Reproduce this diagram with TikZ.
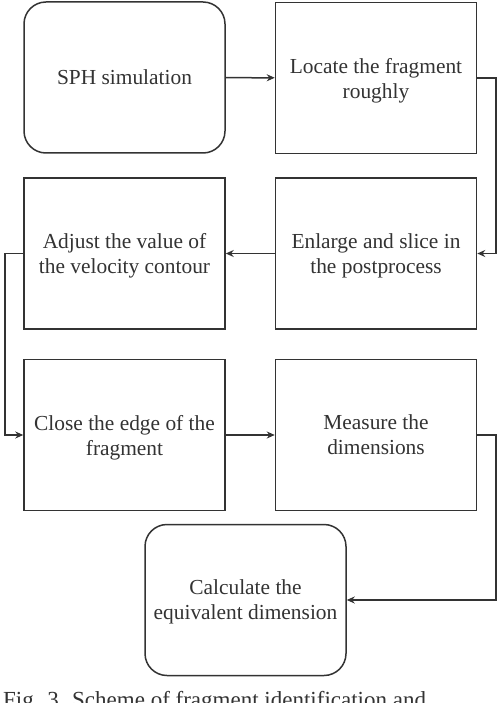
\documentclass[tikz,border=0pt]{standalone}
\usepackage{fontspec}
\setmainfont{Liberation Serif}
\usetikzlibrary{arrows.meta}
\definecolor{ink}{HTML}{333333}
\begin{document}
\begin{tikzpicture}[x=1pt,y=-1pt,
  stepbox/.style={draw=ink, line width=1.5pt, minimum width=201pt, minimum height=151pt,
    inner sep=0pt, align=center, text=ink, text depth=0pt,
    font=\fontsize{21.4}{25}\selectfont},
  roundbox/.style={stepbox, rounded corners=22pt},
  conn/.style={draw=ink, line width=1.5pt, -{Stealth[length=8pt,width=7pt]}}]
\useasboundingbox (0,0) rectangle (500,703);
\fill[white] (0,0) rectangle (500,703);
\node[roundbox] (sph) at (124.5,77.5) {SPH simulation};
\node[stepbox] (loc) at (376,78) {Locate the fragment\\roughly};
\node[stepbox] (adj) at (124.5,253.5) {Adjust the value of\\the velocity contour};
\node[stepbox] (enl) at (376,253.5) {Enlarge and slice in\\the postprocess};
\node[stepbox] (clo) at (124.5,435) {Close the edge of the\\fragment};
\node[stepbox] (mea) at (376,435) {Measure the\\dimensions};
\node[roundbox] (cal) at (245.5,600) {Calculate the\\equivalent dimension};
\coordinate (r1) at (496,78);
\coordinate (l1) at (5,253.5);
\coordinate (r2) at (496,435);
\draw[conn] (sph) -- (loc);
\draw[conn] (loc.east) -- (r1) |- (enl.east);
\draw[conn] (enl) -- (adj);
\draw[conn] (adj.west) -- (l1) |- (clo.west);
\draw[conn] (clo) -- (mea);
\draw[conn] (mea.east) -- (r2) |- (cal.east);
\node[anchor=base west, inner sep=0pt, text=ink, font=\fontsize{23}{28}\selectfont] (cap) at (3,707.5) {Fig. 3. Scheme of fragment identification and};
\end{tikzpicture}
\end{document}
